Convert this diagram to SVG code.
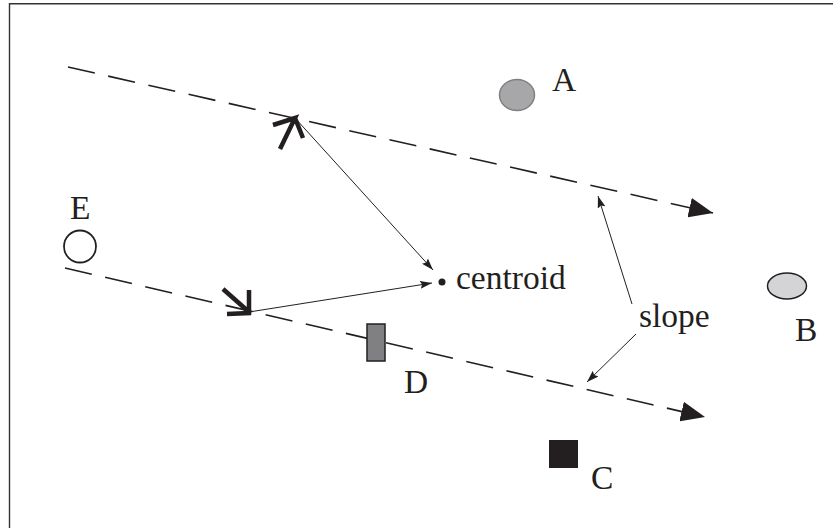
<svg xmlns="http://www.w3.org/2000/svg" width="833" height="528" viewBox="0 0 833 528">
<defs>
<style>
.txt{font-family:"Liberation Serif","Times New Roman",serif;font-size:33.5px;fill:#231f20}
.dash{fill:none;stroke:#231f20;stroke-width:1.6;stroke-dasharray:27.5 13.7}
.thin{fill:none;stroke:#231f20;stroke-width:1}
.thick{fill:none;stroke:#231f20;stroke-width:4.5;stroke-linecap:butt}
</style>
<marker id="big" viewBox="0 0 24 20" refX="24" refY="10" markerWidth="24" markerHeight="20" markerUnits="userSpaceOnUse" orient="auto">
<path d="M0,0 L24,10 L0,20 z" fill="#231f20"/>
</marker>
<marker id="small" viewBox="0 0 12 8" refX="12" refY="4" markerWidth="12" markerHeight="8" markerUnits="userSpaceOnUse" orient="auto">
<path d="M0,0 L12,4 L0,8 L2,4 z" fill="#231f20"/>
</marker>
</defs>
<rect width="833" height="528" fill="#fff"/>
<g id="frame">
<path d="M9.5,528 L9.5,3.8 L833,3.8" fill="none" stroke="#333" stroke-width="1.4"/>
</g>
<g id="connectors">
<path class="dash" d="M68,67 L713,213" marker-end="url(#big)"/>
<path class="dash" d="M65,268 L705,417" marker-end="url(#big)"/>
<path class="thin" d="M295,118 L433,270" marker-end="url(#small)"/>
<path class="thin" d="M249,312 L432,283" marker-end="url(#small)"/>
<path class="thin" d="M632,304 L598,196" marker-end="url(#small)"/>
<path class="thin" d="M636,334 L587,382" marker-end="url(#small)"/>
<path class="thick" d="M273,125 L295,118 L280,149 M295,118 L303,138"/>
<path class="thick" d="M223,289 L249,312 M249,290 L249,313 L227,314"/>
</g>
<g id="centroid">
<circle cx="442" cy="282" r="3.5" fill="#231f20"/>
<text class="txt" x="456" y="289">centroid</text>
</g>
<g id="slope">
<text class="txt" x="639" y="327">slope</text>
</g>
<g id="A">
<ellipse cx="517" cy="95" rx="17.5" ry="15.5" fill="#a7a7a9" stroke="#808080" stroke-width="1.5"/>
<text class="txt" x="552" y="91">A</text>
</g>
<g id="B">
<ellipse cx="787" cy="286" rx="19.5" ry="13" fill="#d4d4d6" stroke="#231f20" stroke-width="1.5"/>
<text class="txt" x="795" y="341">B</text>
</g>
<g id="C">
<rect x="549" y="440" width="29" height="28" fill="#231f20"/>
<text class="txt" x="591" y="489">C</text>
</g>
<g id="D">
<rect x="367" y="324" width="18" height="37" fill="#808083" stroke="#231f20" stroke-width="1.5"/>
<text class="txt" x="404" y="393">D</text>
</g>
<g id="E">
<circle cx="80" cy="246.5" r="16" fill="#fff" stroke="#231f20" stroke-width="1.8"/>
<text class="txt" x="70" y="219">E</text>
</g>
</svg>
